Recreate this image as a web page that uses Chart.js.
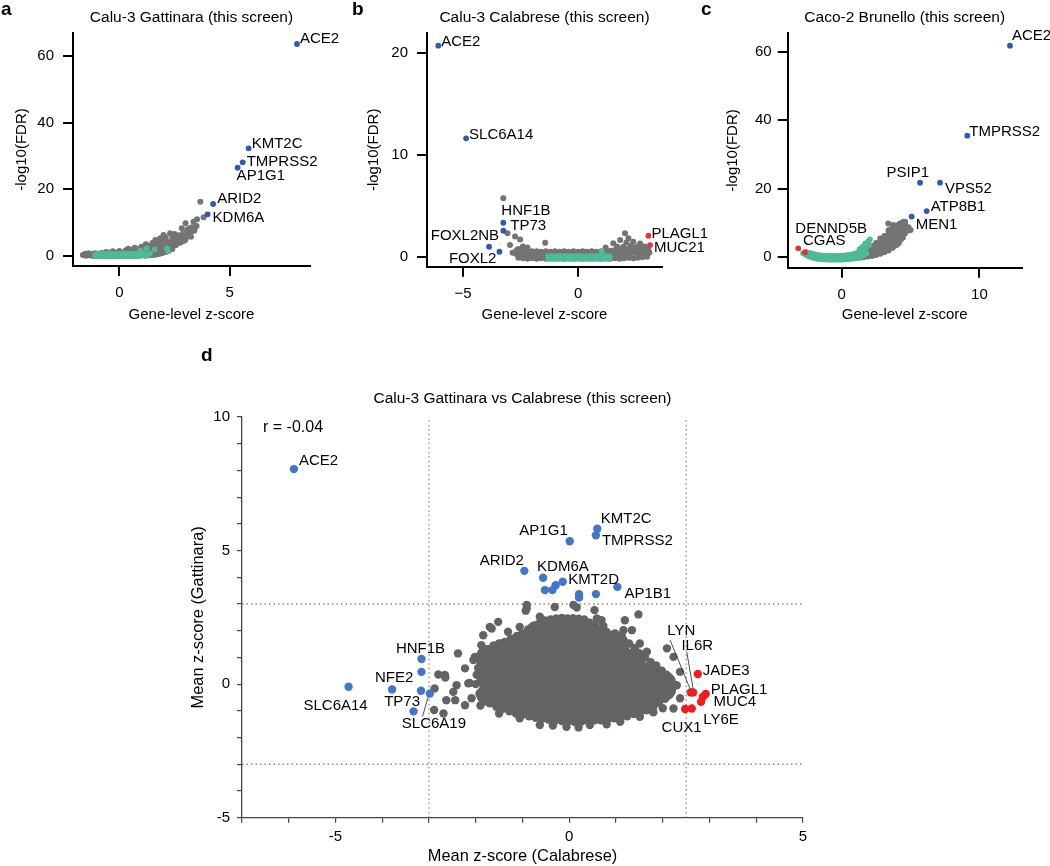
<!DOCTYPE html>
<html><head><meta charset="utf-8">
<script src="https://cdn.jsdelivr.net/npm/chart.js@4.4.1/dist/chart.umd.min.js"></script>
<style>
html,body{margin:0;padding:0;background:#fff;}
body{width:1050px;height:866px;position:relative;overflow:hidden;font-family:'Liberation Sans',Arial,Helvetica,sans-serif;}
canvas{position:absolute;}
.lt{position:absolute;font-weight:bold;font-size:19px;line-height:19px;color:#000;}
</style></head>
<body>
<canvas id="ca" width="345" height="330" style="left:0;top:0"></canvas>
<canvas id="cb" width="365" height="330" style="left:345px;top:0"></canvas>
<canvas id="cc" width="350" height="330" style="left:700px;top:0"></canvas>
<canvas id="cd" width="680" height="536" style="left:170px;top:330px"></canvas>
<div class="lt" style="left:1px;top:-1px">a</div>
<div class="lt" style="left:352px;top:-1px">b</div>
<div class="lt" style="left:701px;top:-1px">c</div>
<div class="lt" style="left:201px;top:345px">d</div>
<script>
// ---------- Panel a: Calu-3 Gattinara ----------
const aGrayX = [-1.65,-1.5,-1.35,-1.2,-1.05,-0.9,-0.75,-0.6,-0.45,-0.3,-0.15,0,0.15,0.3,0.45,0.6,0.75,0.9,1.05,1.2,1.35,1.5,1.65,1.8,1.95,2.1,2.25,2.4,
 -1.55,-1.4,-1.25,-1.1,-0.95,-0.8,-0.65,-0.5,-0.35,-0.2,-0.05,0.1,0.25,0.4,0.55,0.7,0.85,1.0,1.15,1.3,1.45,1.6,1.75,1.9,
 -0.6,-0.3,0,0.3,0.6,0.9,1.2,1.5,1.8,2.1,
 0.4,0.7,1.0,1.3,1.6,1.9,2.2,2.5,
 1.2,1.5,1.8,2.1,2.4,2.7,
 2.4,2.6,2.8,3.0,3.2,2.6,2.8,3.0,3.2,2.9,3.1,3.3,3.4,3.5,3.0,3.36,3.52,3.82,3.67,2.5,2.1,1.9,1.63,1.85,2.0,2.3,2.83,3.2,
 2.3,2.5,2.7,2.9,3.1,3.3,3.4,2.4,2.6,2.7,2.9,3.1,2.2,2.0,1.7,1.4,1.1,0.8,2.55,2.75,2.95,3.25];
const aGrayY = [0.3,0.1,0.2,0,0.1,0,0.1,-0.1,0,0.1,0,-0.1,0,0.1,0,0.1,0,0.1,0.2,0.1,0.2,0.3,0.4,0.6,0.9,1.2,1.6,2.1,
 0.7,0.8,0.6,0.8,0.7,0.9,0.8,1.0,0.9,1.0,1.1,1.0,1.2,1.1,1.3,1.2,1.4,1.3,1.5,1.6,1.6,1.8,1.9,2.2,
 1.2,1.4,1.5,1.7,1.9,2.0,2.2,2.4,2.7,3.0,
 2.2,2.5,2.8,3.1,3.5,3.8,4.2,4.8,
 3.5,3.9,4.4,4.9,5.5,6.2,
 3.0,3.6,4.2,5.0,6.0,4.6,5.4,6.4,7.2,7.0,8.0,8.6,7.6,9.0,9.8,10.3,11.0,11.6,16.3,6.6,5.6,5.0,4.8,5.3,6.3,6.8,8.3,8.3,
 3.5,4.0,4.8,5.6,6.5,7.4,8.2,4.2,5.2,5.8,6.0,7.5,3.6,3.2,3.0,2.8,2.4,2.0,3.2,4.0,4.6,5.8];
const aCtrlX = [-1.1,-0.95,-0.8,-0.65,-0.5,-0.35,-0.2,-0.05,0.1,0.25,0.4,0.55,0.7,0.85,1.0,1.15,1.3,
 -1.0,-0.85,-0.7,-0.55,-0.4,-0.25,-0.1,0.05,0.2,0.35,0.5,0.65,0.8,0.95,1.1,
 1.24,1.39,2.15,2.2,0.95,1.6];
const aCtrlY = [0.1,0,0.1,0,0.1,0,0.1,0,0.1,0,0.1,0,0.1,0,0.1,0.2,0.3,
 0.7,0.6,0.7,0.6,0.7,0.6,0.7,0.6,0.7,0.6,0.7,0.6,0.7,0.8,0.9,
 2.3,0.8,2.3,1.5,1.6,2.0];
const aHitGenes = ['ACE2','KMT2C','TMPRSS2','AP1G1','ARID2','KDM6A'];
const aHitX = [8.05,5.86,5.59,5.36,4.25,4.0];
const aHitY = [63.6,32.3,28.1,26.5,15.6,12.5];
const aXTicks = [0,5];
const aYTicks = [0,20,40,60];

// ---------- Panel b: Calu-3 Calabrese ----------
const bGrayX = [-2.6,-2.4,-2.2,-2.0,-1.8,-1.6,-1.4,-1.2,-1.0,-0.8,-0.6,-0.4,-0.2,0,0.2,0.4,0.6,0.8,1.0,1.2,1.4,1.6,1.8,2.0,2.2,2.4,2.6,2.8,3.0,
 -2.7,-2.5,-2.3,-2.1,-1.9,-1.7,-1.5,-1.3,-1.1,-0.9,-0.7,-0.5,-0.3,-0.1,0.1,0.3,0.5,0.7,0.9,1.1,1.3,1.5,1.7,1.9,2.1,2.3,2.5,2.7,2.9,3.1,
 -2.6,-2.4,-2.2,-2.0,-1.8,-1.6,-1.4,-1.2,-1.0,-0.8,-0.6,-0.4,-0.2,0,0.2,0.4,0.6,0.8,1.0,1.2,1.4,1.6,1.8,2.0,2.2,2.4,2.6,2.8,3.0,
 1.53,1.83,2.04,2.19,2.4,2.62,2.84,3.06,1.97,2.3,2.5,2.7,1.7,2.1,2.9,1.2,-1.43,-3.07,-2.74,-2.52,-2.96,-2.67,-2.4,-2.2,-3.25,-2.85];
const bGrayY = [-0.1,-0.15,-0.2,-0.15,-0.2,-0.15,-0.2,-0.15,-0.2,-0.15,-0.2,-0.15,-0.2,-0.15,-0.2,-0.15,-0.2,-0.15,-0.2,-0.15,-0.2,-0.15,-0.2,-0.15,-0.1,-0.15,-0.1,-0.05,0,
 0.3,0.25,0.2,0.2,0.15,0.2,0.15,0.2,0.15,0.2,0.15,0.2,0.15,0.2,0.15,0.2,0.15,0.2,0.15,0.2,0.2,0.25,0.3,0.3,0.35,0.35,0.4,0.4,0.45,0.4,
 0.75,0.65,0.6,0.55,0.55,0.5,0.55,0.5,0.55,0.5,0.55,0.5,0.55,0.5,0.55,0.5,0.55,0.5,0.55,0.6,0.6,0.65,0.7,0.75,0.8,0.8,0.85,0.8,0.75,
 1.32,1.64,2.3,1.81,1.47,1.05,0.83,0.66,0.98,1.1,0.9,1.3,1.0,1.4,1.0,0.9,1.38,2.3,2.0,1.7,1.15,0.66,1.0,0.9,5.74,0.4];
const bCtrlX = [-1.3,-1.15,-1.0,-0.85,-0.7,-0.55,-0.4,-0.25,-0.1,0.05,0.2,0.35,0.5,0.65,0.8,0.95,1.1,1.25,1.37,
 -1.3,-1.15,-1.0,-0.85,-0.7,-0.55,-0.4,-0.25,-0.1,0.05,0.2,0.35,0.5,0.65,0.8,0.95,1.1,1.25,1.37,1.03];
const bCtrlY = [-0.2,-0.2,-0.2,-0.2,-0.2,-0.2,-0.2,-0.2,-0.2,-0.2,-0.2,-0.2,-0.2,-0.2,-0.2,-0.2,-0.2,-0.2,-0.2,
 0.05,0.05,0.05,0.05,0.05,0.05,0.05,0.05,0.05,0.05,0.05,0.05,0.05,0.05,0.05,0.05,0.05,0.05,0.05,0.5];
const bHitGenes = ['ACE2','SLC6A14','HNF1B','TP73','FOXL2NB','FOXL2'];
const bHitX = [-6.08,-4.87,-3.25,-3.25,-3.87,-3.42];
const bHitY = [20.75,11.64,3.34,2.56,0.98,0.49];
const bPosGenes = ['PLAGL1','MUC21'];
const bPosX = [3.06,3.13];
const bPosY = [2.07,1.15];

// ---------- Panel c: Caco-2 Brunello ----------
const cGrayX = [0.4,0.4,0.7,0.7,1.0,1.0,1.3,1.3,1.3,1.6,1.6,1.6,1.9,1.9,1.9,2.2,2.2,2.2,2.2,2.5,2.5,2.5,2.5,
 2.8,2.8,2.8,2.8,2.8,3.1,3.1,3.1,3.1,3.1,3.4,3.4,3.4,3.4,3.4,3.4,3.7,3.7,3.7,3.7,3.7,3.7,
 4.0,4.0,4.0,4.0,4.0,4.0,4.3,4.3,4.3,4.3,4.3,4.6,4.6,4.6,4.6,4.85,4.85,
 3.46,4.72,4.47,4.6,3.75,3.38,4.23,5.0,
 2.05,2.35,2.65,2.95,3.25,3.55,3.85,4.15,4.45,2.35,2.65,2.95,3.25,3.55,3.85,4.15,1.75,1.45];
const cGrayY = [-0.3,0.5,-0.3,0.6,-0.2,0.8,-0.1,1.0,1.6,0.0,1.2,2.0,0.2,1.4,2.5,0.4,1.6,2.8,3.4,0.7,1.9,3.1,4.2,
 1.0,2.2,3.4,4.6,5.5,1.5,2.7,3.9,5.1,6.2,2.0,3.2,4.4,5.6,6.8,7.8,2.8,4.0,5.2,6.4,7.6,8.6,
 3.6,4.8,6.0,7.2,8.4,9.3,5.2,6.4,7.6,8.8,9.8,7.0,8.2,9.4,10.2,7.8,8.8,
 8.0,8.5,10.4,10.4,9.4,9.9,9.9,8.0,
 1.0,1.3,1.6,2.1,2.4,2.8,3.4,4.2,5.8,2.5,2.8,3.3,4.4,5.0,6.0,7.0,0.8,0.6];
const cCtrlX = [-2.8,-2.6,-2.4,-2.2,-2.0,-1.8,-1.6,-1.4,-1.2,-1.0,-0.8,-0.6,-0.4,-0.2,0,0.2,0.4,0.6,0.8,1.0,1.2,1.4,1.6,1.8,
 -2.6,-2.4,-2.2,-2.0,-1.8,-1.6,-1.4,-1.2,-1.0,-0.8,-0.6,-0.4,-0.2,0,0.2,0.4,0.6,0.8,1.0,1.2,1.4,1.6,1.8,
 1.7,1.9,2.05,1.5,1.3,2.0];
const cCtrlY = [1.2,0.7,0.3,0.0,-0.2,-0.4,-0.5,-0.6,-0.6,-0.7,-0.7,-0.7,-0.7,-0.7,-0.7,-0.6,-0.6,-0.5,-0.4,-0.3,-0.1,0.2,0.6,1.2,
 1.6,1.3,1.1,0.9,0.7,0.6,0.5,0.4,0.4,0.4,0.4,0.4,0.4,0.5,0.5,0.6,0.7,0.9,1.1,1.4,1.8,2.4,3.0,
 4.0,4.6,5.2,3.0,2.4,3.6];
const cHitGenes = ['ACE2','TMPRSS2','PSIP1','VPS52','ATP8B1','MEN1'];
const cHitX = [12.22,9.12,5.69,7.14,6.17,5.08];
const cHitY = [61.8,35.5,21.8,21.8,13.5,11.9];
const cPosGenes = ['DENND5B','CGAS'];
const cPosX = [-3.15,-2.67];
const cPosY = [2.63,1.46];

// ---------- Panel d: Gattinara vs Calabrese ----------
const dCoreX = [-1.75,-1.75,-1.75,-1.75, -1.4,-1.4,-1.4,-1.4,-1.4, -1.05,-1.05,-1.05,-1.05,-1.05,-1.05,
 -0.7,-0.7,-0.7,-0.7,-0.7,-0.7,-0.7, -0.35,-0.35,-0.35,-0.35,-0.35,-0.35,-0.35, 0,0,0,0,0,0,0,
 0.35,0.35,0.35,0.35,0.35,0.35,0.35, 0.7,0.7,0.7,0.7,0.7,0.7, 1.05,1.05,1.05,1.05,1.05,1.05,
 1.4,1.4,1.4,1.4, 1.75,1.75,1.75, 2.05,2.05];
const dCoreY = [-0.4,0.2,0.75,1.05, -0.6,-0.05,0.5,1.05,1.28, -0.8,-0.25,0.3,0.85,1.4,1.55,
 -0.95,-0.4,0.15,0.7,1.25,1.8,1.95, -1.05,-0.5,0.05,0.6,1.15,1.7,2.1, -1.1,-0.55,0,0.55,1.1,1.65,2.15,
 -1.05,-0.5,0.05,0.6,1.15,1.7,2.05, -1.0,-0.45,0.1,0.65,1.2,1.7, -0.9,-0.35,0.2,0.75,1.3,1.45,
 -0.75,-0.2,0.35,0.95, -0.5,0,0.45, -0.2,0.05];
const dGrayX = [-2.0,-1.98,-1.95,-1.88,-1.82,-1.72,-1.62,-1.5,-1.38,-1.25,-1.12,-1.0,-0.88,-0.76,-0.64,-0.52,-0.4,-0.28,-0.16,-0.04,
 0.08,0.2,0.32,0.44,0.56,0.68,0.8,0.92,1.04,1.16,1.28,1.4,1.5,1.62,1.74,1.86,1.98,2.08,2.16,
 2.18,2.15,2.05,1.92,1.8,1.66,1.52,1.38,1.24,1.1,0.96,0.82,0.68,0.54,0.4,0.26,0.12,-0.02,-0.16,-0.3,
 -0.44,-0.58,-0.72,-0.86,-1.0,-1.14,-1.28,-1.42,-1.56,-1.7,-1.82,-1.92,
 -0.91,-0.93,-0.31,0.09,0.16,0.54,0.59,0.69,1.19,1.48,1.34,1.12,1.51,1.66,2.09,2.23,2.37,2.3,2.37,2.23,
 -1.84,-1.66,-1.31,-1.06,-2.38,-2.02,-2.23,-2.66,-2.41,-2.48,-2.16,-2.69,-2.44,-2.09,-1.06,-0.63,-0.06,0.44,1.09,1.51,
 -2.8,-2.65,-2.88,-2.89,-2.63,-2.23,-2.13,-2.05,-1.88,-0.63,-1.7,-1.52,0.73,0.98,1.16,-0.91,
 1.8,2.0,-1.5,-1.9,0.8,-0.35,0.2];
const dGrayY = [0.0,0.35,0.6,0.9,1.1,1.3,1.45,1.52,1.58,1.7,1.8,1.9,2.05,2.18,2.28,2.38,2.42,2.46,2.48,2.46,
 2.47,2.45,2.42,2.3,2.18,2.06,1.95,1.85,1.75,1.65,1.52,1.35,1.15,1.0,0.82,0.7,0.5,0.35,0.15,
 -0.1,-0.35,-0.55,-0.7,-0.85,-0.98,-1.05,-1.12,-1.2,-1.25,-1.28,-1.32,-1.35,-1.35,-1.38,-1.4,-1.42,-1.4,-1.38,-1.36,
 -1.33,-1.3,-1.26,-1.2,-1.15,-1.1,-1.02,-0.92,-0.85,-0.72,-0.55,-0.35,
 2.96,2.75,2.89,2.96,2.87,2.77,2.46,2.39,2.39,2.61,2.02,1.83,1.52,1.21,1.34,1.02,0.46,-0.04,-0.53,-0.91,
 1.83,2.08,1.96,2.14,1.15,1.02,0.59,0.34,-0.04,-0.29,0.03,-1.1,-0.6,-0.53,-1.28,-1.53,-1.6,-1.53,-1.41,-1.22,
 0.36,0.25,-0.16,-0.97,-0.6,-0.79,0.04,0.9,1.46,2.52,2.14,2.33,2.18,1.9,2.02,2.83,
 -1.05,-0.9,-1.1,-0.8,-1.5,-1.55,-1.62];
const dHitGenes = ['ACE2','AP1G1','KMT2C','TMPRSS2','ARID2','KDM6A','','','','KMT2D','','','','AP1B1',
 'HNF1B','','NFE2','SLC6A14','TP73','SLC6A19',''];
const dHitX = [-5.89,0.01,0.6,0.57,-0.96,-0.56,-0.52,-0.36,-0.29,-0.14,0.21,0.21,0.57,1.03,
 -3.16,-3.16,-3.79,-4.72,-3.17,-2.98,-3.33];
const dHitY = [8.05,5.35,5.82,5.57,4.24,3.98,3.52,3.52,3.7,3.83,3.37,3.24,3.37,3.64,
 0.94,0.46,-0.2,-0.1,-0.25,-0.35,-1.02];
const dPosGenes = ['LYN','IL6R','JADE3','PLAGL1','','MUC4','CUX1','LY6E'];
const dPosX = [2.6,2.65,2.75,2.92,2.86,2.82,2.48,2.62];
const dPosY = [-0.31,-0.31,0.38,-0.37,-0.47,-0.66,-0.93,-0.91];
const dThreshX = [-3, 2.5];
const dThreshY = [-3, 3];
const dR = -0.04;

// ---------- styles ----------
const FONT = "'Liberation Sans', Arial, Helvetica, sans-serif";
const GRAY = '#747474';
const GREEN = '#4dbb94';
const BLUE = '#3157ae';
const RED = '#d9363e';
const GRAY_D = '#636363';
const BLUE_D = '#4376c6';
const RED_D = '#f01c20';

const pts = (xs, ys) => xs.map((x, i) => ({x: x, y: ys[i]}));

const labelPlugin = {
  id: 'geneLabels',
  afterDatasetsDraw(chart, args, opts) {
    const ctx = chart.ctx, xs = chart.scales.x, ys = chart.scales.y;
    ctx.save();
    ctx.font = opts.font;
    ctx.fillStyle = '#000';
    ctx.textBaseline = 'middle';
    (opts.items || []).forEach(it => {
      const px = xs.getPixelForValue(it.x), py = ys.getPixelForValue(it.y);
      if (it.line) {
        ctx.beginPath();
        ctx.moveTo(px + it.line[0], py + it.line[1]);
        ctx.lineTo(px + it.line[2], py + it.line[3]);
        ctx.strokeStyle = '#222'; ctx.lineWidth = 0.8; ctx.stroke();
      }
      ctx.font = it.font || opts.font;
      ctx.textAlign = it.align || 'left';
      ctx.fillText(it.text, px + it.dx, py + it.dy);
    });
    ctx.restore();
  }
};

function buildLabels(genes, xs, ys, style) {
  const out = [];
  genes.forEach((g, i) => {
    if (!g || !style[g]) return;
    const s = style[g];
    out.push({text: g, x: xs[i], y: ys[i], dx: s[0], dy: s[1], align: s[2] || 'left', line: s[3]});
  });
  return out;
}

const minus = v => (v < 0 ? '\u2212' + Math.abs(v) : String(v));

function volcano(id, c) {
  const tickFont = {family: FONT, size: 15};
  return new Chart(document.getElementById(id), {
    type: 'scatter',
    data: {datasets: c.datasets},
    options: {
      responsive: false, animation: false, events: [],
      layout: {padding: {left: 0, right: c.padRight, top: 0, bottom: 0}},
      plugins: {
        legend: {display: false}, tooltip: {enabled: false},
        title: {display: true, text: c.title, fullSize: false, color: '#000',
          font: {family: FONT, size: 15.5, weight: 'normal'}, padding: {top: 8.2, bottom: c.titleBottom}},
        geneLabels: {font: '15px ' + FONT, items: c.labels}
      },
      scales: {
        x: {type: 'linear', min: c.xMin, max: c.xMax,
          afterFit: s => { s.height = c.xH; },
          afterBuildTicks: s => { s.ticks = c.xTicks.map(v => ({value: v})); },
          ticks: {font: tickFont, color: '#000', padding: 8, maxRotation: 0, callback: c.xFmt || (v => String(v))},
          grid: {display: true, drawOnChartArea: false, drawTicks: true, tickLength: 10, color: '#000', lineWidth: 2},
          border: {display: true, color: '#000', width: 2},
          title: {display: true, text: 'Gene-level z-score', color: '#000', font: tickFont, padding: {top: 0, bottom: 6}}},
        y: {type: 'linear', min: c.yMin, max: c.yMax,
          afterFit: s => { s.width = c.yW; },
          afterBuildTicks: s => { s.ticks = c.yTicks.map(v => ({value: v})); },
          ticks: {font: tickFont, color: '#000', padding: c.yPad},
          grid: {display: true, drawOnChartArea: false, drawTicks: true, tickLength: 10, color: '#000', lineWidth: 2},
          border: {display: true, color: '#000', width: 2},
          title: {display: true, text: '-log10(FDR)', color: '#000', font: tickFont, padding: {top: c.yTitlePad, bottom: 0}}}
      }
    },
    plugins: [labelPlugin]
  });
}

function ds(data, color, r, order) {
  return {data: data, pointRadius: r, pointBackgroundColor: color, pointBorderWidth: 0,
    pointBorderColor: 'rgba(0,0,0,0)', pointHoverRadius: r, order: order};
}

// Panel a
volcano('ca', {
  title: 'Calu-3 Gattinara (this screen)', padRight: 35, titleBottom: 6.2,
  xMin: -2.1, xMax: 8.64, yMin: -3.0, yMax: 66.9, xH: 64, yW: 73, yPad: 9, yTitlePad: 13,
  xTicks: aXTicks, yTicks: aYTicks,
  datasets: [ds(pts(aHitX, aHitY), BLUE, 2.9, 1), ds(pts(aCtrlX, aCtrlY), GREEN, 2.9, 2), ds(pts(aGrayX, aGrayY), GRAY, 3, 3)],
  labels: buildLabels(aHitGenes, aHitX, aHitY, {
    ACE2: [3, -5], KMT2C: [3, -4], TMPRSS2: [4, 0], AP1G1: [-1, 8], ARID2: [4, -5], KDM6A: [5, 4]})
});

// Panel b
volcano('cb', {
  title: 'Calu-3 Calabrese (this screen)', padRight: 48, titleBottom: 6.2,
  xMin: -6.57, xMax: 3.65, yMin: -0.98, yMax: 22.0, xH: 63.3, yW: 82, yPad: 9, yTitlePad: 20,
  xTicks: [-5, 0], yTicks: [0, 10, 20], xFmt: minus,
  datasets: [ds(pts(bHitX, bHitY), BLUE, 2.9, 1), ds(pts(bPosX, bPosY), RED, 2.9, 1),
    ds(pts(bCtrlX, bCtrlY), GREEN, 2.9, 2), ds(pts(bGrayX, bGrayY), GRAY, 3, 3)],
  labels: buildLabels(bHitGenes, bHitX, bHitY, {
    ACE2: [3, -4], SLC6A14: [3, -3], HNF1B: [-2, -12], TP73: [7, -5], FOXL2NB: [10, -11, 'right'], FOXL2: [-3, 7, 'right']})
    .concat(buildLabels(bPosGenes, bPosX, bPosY, {PLAGL1: [3, -2], MUC21: [4, 3]}))
});

// Panel c
volcano('cc', {
  title: 'Caco-2 Brunello (this screen)', padRight: 28.3, titleBottom: 6.5,
  xMin: -3.92, xMax: 13.07, yMin: -3.04, yMax: 65.4, xH: 62.3, yW: 87.7, yPad: 6, yTitlePad: 24,
  xTicks: [0, 10], yTicks: [0, 20, 40, 60],
  datasets: [ds(pts(cHitX, cHitY), BLUE, 2.9, 1), ds(pts(cPosX, cPosY), RED, 2.9, 1),
    ds(pts(cCtrlX, cCtrlY), GREEN, 2.9, 2), ds(pts(cGrayX, cGrayY), GRAY, 3, 3)],
  labels: buildLabels(cHitGenes, cHitX, cHitY, {
    ACE2: [2, -10], TMPRSS2: [2, -4], PSIP1: [9, -10, 'right'], VPS52: [5, 6], ATP8B1: [4, -4], MEN1: [4, 8]})
    .concat(buildLabels(cPosGenes, cPosX, cPosY, {DENND5B: [-3, -19], CGAS: [-2, -11]}))
});

// Panel d
const dXMin = -7, dXMax = 5, dYMin = -5, dYMax = 10;
const threshDs = [];
dThreshX.forEach(v => threshDs.push({data: [{x: v, y: dYMin}, {x: v, y: dYMax}]}));
dThreshY.forEach(v => threshDs.push({data: [{x: dXMin, y: v}, {x: dXMax, y: v}]}));
threshDs.forEach(d => { Object.assign(d, {showLine: true, borderColor: '#8a8a8a', borderWidth: 1.3,
  borderDash: [1.5, 3], pointRadius: 0, fill: false, order: 5}); });

const dLabels = buildLabels(dHitGenes, dHitX, dHitY, {
  ACE2: [5, -8], AP1G1: [-2, -10, 'right'], KMT2C: [3.5, -9.5], TMPRSS2: [6, 6], ARID2: [-0.5, -10, 'right'],
  KDM6A: [-6, -11], KMT2D: [5.5, -1.6], AP1B1: [7, 6.6], HNF1B: [-1, -10, 'center'], NFE2: [2, -12, 'center'],
  SLC6A14: [-13, 19, 'center'], TP73: [-1, 11, 'right'], SLC6A19: [4, 30, 'center', [-1.8, 3.6, -7.4, 23]]})
  .concat(buildLabels(dPosGenes, dPosX, dPosY, {
    LYN: [-9.4, -61.6, 'center', [-20.7, -52.3, -0.7, -3.5]], IL6R: [4.1, -46.6, 'center', [-6.4, -40.6, 0, -3.5]],
    JADE3: [5, -3], PLAGL1: [5, -4.6], MUC4: [12.5, 0], CUX1: [-3.6, 18.4, 'center'], LY6E: [11.5, 11]}));
dLabels.push({text: 'r = ' + dR.toFixed(2), x: -6.55, y: 9.6, dx: 0, dy: 0, align: 'left', font: '16px ' + FONT});

const dTickFont = {family: FONT, size: 15};
new Chart(document.getElementById('cd'), {
  type: 'scatter',
  data: {datasets: [
    ds(pts(dHitX, dHitY), BLUE_D, 4.2, 1), ds(pts(dPosX, dPosY), RED_D, 4.2, 1),
    ds(pts(dGrayX, dGrayY), GRAY_D, 4.2, 3), ds(pts(dCoreX, dCoreY), GRAY_D, 11, 3)
  ].concat(threshDs)},
  options: {
    responsive: false, animation: false, events: [],
    layout: {padding: {left: 0, right: 47, top: 0, bottom: 0}},
    plugins: {
      legend: {display: false}, tooltip: {enabled: false},
      title: {display: true, text: 'Calu-3 Gattinara vs Calabrese (this screen)', fullSize: false, color: '#000',
        font: {family: FONT, size: 15.5, weight: 'normal'}, padding: {top: 59, bottom: 9.4}},
      geneLabels: {font: '15px ' + FONT, items: dLabels}
    },
    scales: {
      x: {type: 'linear', min: dXMin, max: dXMax,
        afterFit: s => { s.height = 48.3; },
        ticks: {stepSize: 1, autoSkip: false, includeBounds: false, font: dTickFont, color: '#000', padding: 5, maxRotation: 0,
          callback: v => (v % 5 === 0 ? String(v) : '')},
        grid: {display: true, drawOnChartArea: false, drawTicks: true, tickLength: 5, color: '#444', lineWidth: 1.2},
        border: {display: true, color: '#444', width: 1.3},
        title: {display: true, text: 'Mean z-score (Calabrese)', color: '#000', font: {family: FONT, size: 16.4}, padding: {top: 0, bottom: 0}}},
      y: {type: 'linear', min: dYMin, max: dYMax,
        afterFit: s => { s.width = 72; },
        ticks: {stepSize: 1, autoSkip: false, includeBounds: false, font: dTickFont, color: '#000', padding: 7,
          callback: v => (v % 5 === 0 ? String(v) : '')},
        grid: {display: true, drawOnChartArea: false, drawTicks: true, tickLength: 5, color: '#444', lineWidth: 1.2},
        border: {display: true, color: '#444', width: 1.3},
        title: {display: true, text: 'Mean z-score (Gattinara)', color: '#000', font: {family: FONT, size: 16.4}, padding: {top: 18.7, bottom: 0}}}
    }
  },
  plugins: [labelPlugin]
});
</script>
</body></html>
